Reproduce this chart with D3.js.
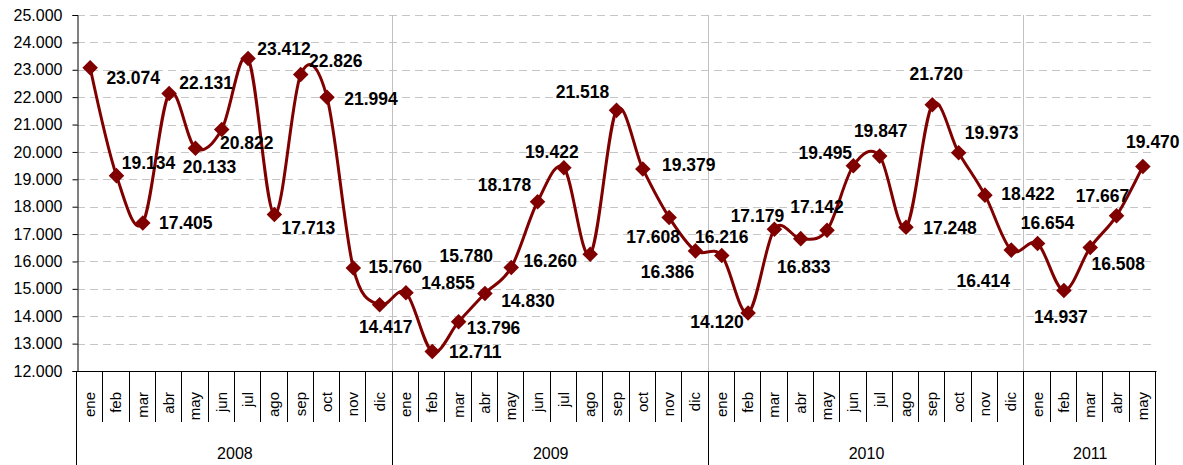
<!DOCTYPE html>
<html>
<head>
<meta charset="utf-8">
<style>
  body { margin: 0; background: #fff; }
  svg { display: block; font-family: "Liberation Sans", Arial, sans-serif; }
</style>
</head>
<body>
<div id="chart"></div>
<script src="https://d3js.org/d3.v7.min.js"></script>
<script>

// data
var years = ["2008", "2009", "2010", "2011"];
var monthNames = ["ene", "feb", "mar", "abr", "may", "jun", "jul", "ago", "sep", "oct", "nov", "dic"];
var v2008 = [23.074, 19.134, 17.405, 22.131, 20.133, 20.822, 23.412, 17.713, 22.826, 21.994, 15.760, 14.417];
var v2009 = [14.855, 12.711, 13.796, 14.830, 15.780, 18.178, 19.422, 16.260, 21.518, 19.379, 17.608, 16.386];
var v2010 = [16.216, 14.120, 17.179, 16.833, 17.142, 19.495, 19.847, 17.248, 21.720, 19.973, 18.422, 16.414];
var v2011 = [16.654, 14.937, 16.508, 17.667, 19.470];
var yTicks = [12, 13, 14, 15, 16, 17, 18, 19, 20, 21, 22, 23, 24, 25];

// where each value label sits relative to its marker (dx, dy)
var labelOffset = [
  [43, 10], [32, -13], [43, 0], [37, -11], [14, 18], [25, 13], [36, -10], [34, 13], [35, -14], [44, 1], [42, -1], [6, 22],
  [42, -10], [43, 0], [35, 6], [43, 7], [-45, -12], [-33, -17], [-12, -16], [-40, 6], [-34, -19], [46, -4], [-16, 19], [-28, 21],
  [0, -19], [-31, 9], [-17, -13], [3, 28], [-10, -23], [-28, -13], [1, -25], [44, 0], [4, -31], [33, -20], [43, -1], [-28, 31],
  [10, -21], [-3, 26], [28, 16], [-14, -20], [10, -25]
];

var series = [v2008, v2009, v2010, v2011];
var data = [];
series.forEach(function(vals, yi) {
  vals.forEach(function(v, mi) {
    data.push({ key: years[yi] + "-" + monthNames[mi], year: years[yi], month: monthNames[mi], value: v });
  });
});

var W = 1183, H = 465;
var plotLeft = 77, plotRight = 1156, plotTop = 15, plotBottom = 371;

var svg = d3.select("#chart").append("svg")
    .attr("width", W)
    .attr("height", H);

var x = d3.scaleBand()
    .domain(data.map(function(d) { return d.key; }))
    .range([plotLeft, plotRight])
    .padding(0);

var y = d3.scaleLinear()
    .domain([12, 25])
    .range([plotBottom, plotTop]);

var fmtLabel = d3.format(".3f");

// gridlines
svg.append("g")
  .selectAll("line")
  .data(yTicks.slice(1))
  .enter().append("line")
    .attr("x1", plotLeft)
    .attr("x2", plotRight)
    .attr("y1", function(d) { return Math.round(y(d)) + 0.5; })
    .attr("y2", function(d) { return Math.round(y(d)) + 0.5; })
    .attr("stroke", "#c6c6c6")
    .attr("stroke-width", 1)
    .attr("stroke-dasharray", "8,5");

// year boundaries
var yearStart = years.map(function(yr) {
  return x(data.filter(function(d) { return d.year == yr; })[0].key);
});
var yearEnd = years.map(function(yr) {
  var rows = data.filter(function(d) { return d.year == yr; });
  return x(rows[rows.length - 1].key) + x.bandwidth();
});

svg.append("g")
  .selectAll("line")
  .data(yearStart.slice(1))
  .enter().append("line")
    .attr("x1", function(d) { return Math.round(d) - 0.5; })
    .attr("x2", function(d) { return Math.round(d) - 0.5; })
    .attr("y1", plotTop)
    .attr("y2", plotBottom)
    .attr("stroke", "#c0c0c0");

// y axis
var yAxis = svg.append("g")
    .attr("transform", "translate(" + (plotLeft + 0.5) + ",0)")
    .call(d3.axisLeft(y).tickValues(yTicks).tickSize(5).tickPadding(10).tickFormat(fmtLabel));
yAxis.select(".domain").attr("stroke", "#000");
yAxis.selectAll("line").attr("stroke", "#000");
yAxis.selectAll("text")
    .attr("font-size", 16)
    .attr("font-family", "'Liberation Sans', Arial, sans-serif")
    .attr("fill", "#000");

// x axis line
svg.append("line")
    .attr("x1", plotLeft)
    .attr("x2", plotRight + 0.5)
    .attr("y1", plotBottom + 0.5)
    .attr("y2", plotBottom + 0.5)
    .attr("stroke", "#000");

// month separators
svg.append("g")
  .selectAll("line")
  .data(data.slice(1))
  .enter().append("line")
    .attr("x1", function(d) { return Math.round(x(d.key)) - 0.5; })
    .attr("x2", function(d) { return Math.round(x(d.key)) - 0.5; })
    .attr("y1", plotBottom)
    .attr("y2", 422)
    .attr("stroke", "#000");

// year separators below axis
svg.append("g")
  .selectAll("line")
  .data(yearStart.concat([plotRight]))
  .enter().append("line")
    .attr("x1", function(d) { return Math.round(d) - 0.5; })
    .attr("x2", function(d) { return Math.round(d) - 0.5; })
    .attr("y1", plotBottom)
    .attr("y2", H)
    .attr("stroke", "#000");

// month labels
svg.append("g")
  .selectAll("text")
  .data(data)
  .enter().append("text")
    .attr("transform", function(d) { return "translate(" + (x(d.key) + x.bandwidth() / 2 + 5) + ",392) rotate(-90)"; })
    .attr("text-anchor", "end")
    .attr("font-size", 15)
    .attr("fill", "#000")
    .text(function(d) { return d.month; });

// year labels
svg.append("g")
  .selectAll("text")
  .data(years)
  .enter().append("text")
    .attr("x", function(d, i) { return (yearStart[i] + yearEnd[i]) / 2; })
    .attr("y", 459)
    .attr("text-anchor", "middle")
    .attr("font-size", 16)
    .attr("fill", "#000")
    .text(function(d) { return d; });

// line
var line = d3.line()
    .x(function(d) { return x(d.key) + x.bandwidth() / 2; })
    .y(function(d) { return y(d.value); })
    .curve(d3.curveCardinal.tension(0));

svg.append("path")
    .datum(data)
    .attr("d", line)
    .attr("fill", "none")
    .attr("stroke", "#800000")
    .attr("stroke-width", 3);

// markers
svg.append("g")
  .selectAll("path")
  .data(data)
  .enter().append("path")
    .attr("d", d3.symbol(d3.symbolSquare, 121))
    .attr("transform", function(d) { return "translate(" + (x(d.key) + x.bandwidth() / 2) + "," + y(d.value) + ") rotate(45)"; })
    .attr("fill", "#800000");

// value labels
svg.append("g")
  .selectAll("text")
  .data(data)
  .enter().append("text")
    .attr("x", function(d, i) { return x(d.key) + x.bandwidth() / 2 + labelOffset[i][0]; })
    .attr("y", function(d, i) { return y(d.value) + labelOffset[i][1]; })
    .attr("dy", "0.36em")
    .attr("text-anchor", "middle")
    .attr("font-size", 17.5)
    .attr("font-weight", "bold")
    .attr("fill", "#000")
    .text(function(d) { return fmtLabel(d.value); });

</script>
</body>
</html>
